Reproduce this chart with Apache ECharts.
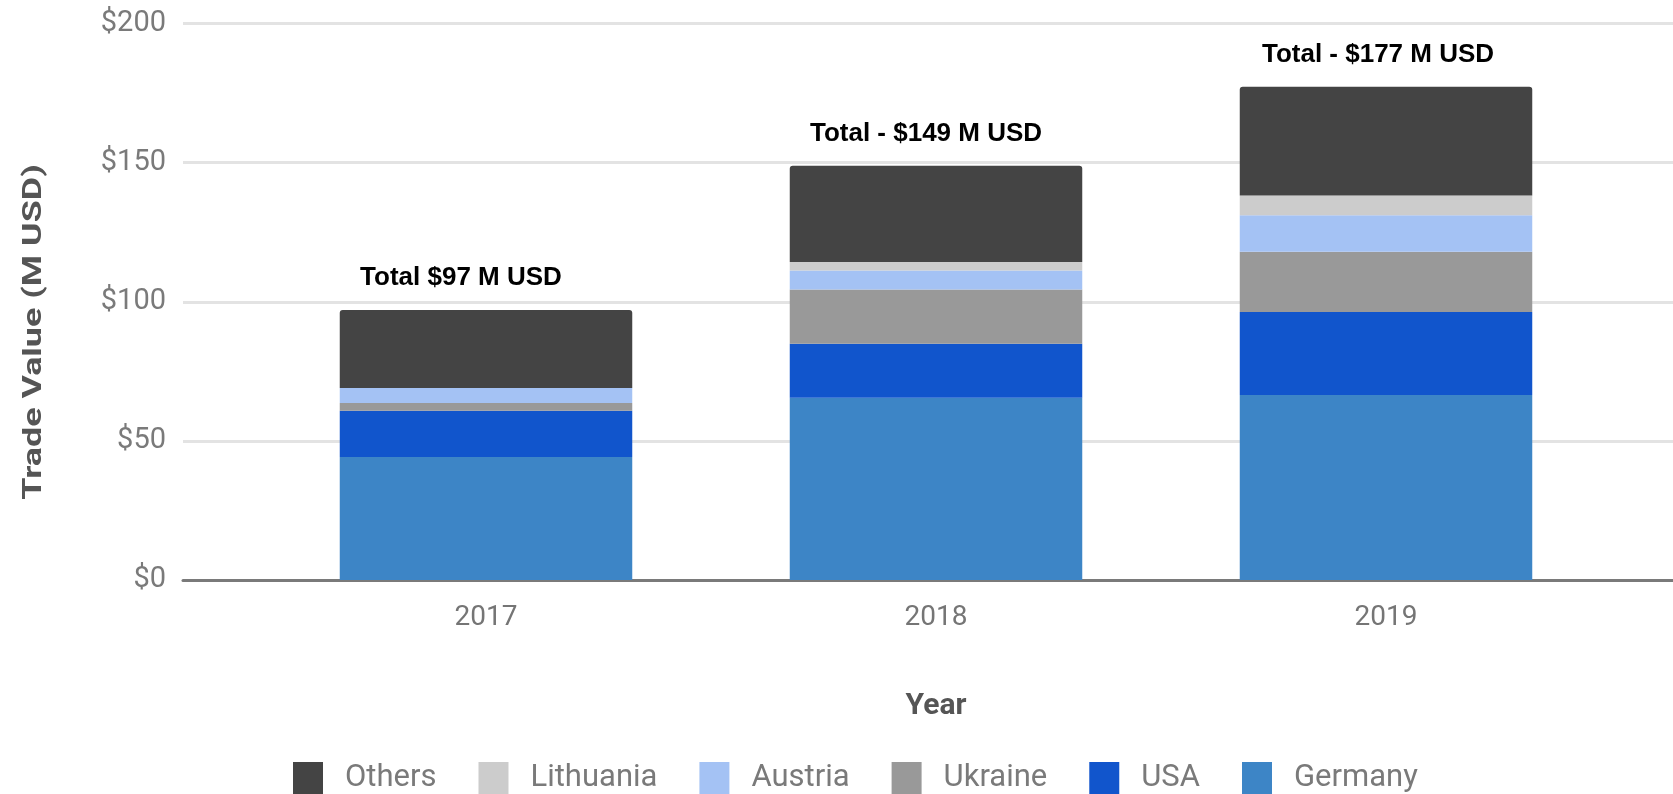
<!DOCTYPE html>
<html>
<head>
<meta charset="utf-8">
<script src="https://cdn.jsdelivr.net/npm/echarts@6/dist/echarts.min.js"></script>
<style>
html,body{margin:0;padding:0;background:#fff;}
#chart{width:1673px;height:794px;}
</style>
</head>
<body>
<div id="chart"></div>
<script>
const years = ['2017', '2018', '2019'];
const germany = [44.2, 65.5, 66.5];
const usa = [16.6, 19.4, 29.8];
const ukraine = [2.8, 19.5, 21.7];
const austria = [5.4, 6.8, 13.1];
const lithuania = [0, 3.1, 7.1];
const others = [28.0, 34.6, 39.1];
const totalLabels = ['Total $97 M USD', 'Total - $149 M USD', 'Total - $177 M USD'];
const yTicks = [0, 50, 100, 150, 200];
const legendOrder = ['Others', 'Lithuania', 'Austria', 'Ukraine', 'USA', 'Germany'];

// label horizontal nudges (style only)
const labelNudge = [-25, -10, -8];

const colors = {
  Germany: '#3d85c6', USA: '#1155cc', Ukraine: '#999999',
  Austria: '#a4c2f4', Lithuania: '#cccccc', Others: '#444444'
};

const chart = echarts.init(document.getElementById('chart'));

function barSeries(name, values, extra) {
  return Object.assign({
    name: name,
    type: 'bar',
    stack: 'total',
    xAxisIndex: 1,
    yAxisIndex: 1,
    barWidth: '65%',
    itemStyle: { color: colors[name] },
    emphasis: { disabled: true },
    data: values
  }, extra || {});
}

const option = {
  animation: false,
  backgroundColor: '#ffffff',
  grid: [
    { left: 183, right: 0, top: 23.5, bottom: 214 },
    { left: 261, right: 62, top: 23.5, bottom: 214 }
  ],
  xAxis: [
    {
      gridIndex: 0, type: 'category', data: [''],
      axisLine: { show: true, lineStyle: { color: '#7a7a7a', width: 3 } },
      axisTick: { show: false }, axisLabel: { show: false }
    },
    {
      gridIndex: 1, type: 'category', data: years,
      axisLine: { show: false }, axisTick: { show: false },
      axisLabel: { fontFamily: 'Roboto', fontSize: 28, color: '#757575', margin: 24 },
      name: 'Year', nameLocation: 'middle', nameGap: 111,
      nameTextStyle: { fontFamily: 'Roboto', fontWeight: 'bold', fontSize: 30, color: '#555555' }
    }
  ],
  yAxis: [
    {
      gridIndex: 0, type: 'value', min: yTicks[0], max: yTicks[yTicks.length - 1], interval: 50,
      axisLine: { show: false }, axisTick: { show: false },
      axisLabel: { formatter: v => '$' + v, fontFamily: 'Roboto', fontSize: 29, color: '#7a7a7a', margin: 17 },
      splitLine: { lineStyle: { color: '#e3e3e3', width: 3 } }
    },
    {
      gridIndex: 1, type: 'value', min: yTicks[0], max: yTicks[yTicks.length - 1], interval: 50,
      show: false, splitLine: { show: false }
    }
  ],
  legend: {
    data: legendOrder,
    left: 288, top: 757,
    icon: 'rect', itemWidth: 30, itemHeight: 32, itemGap: 42,
    textStyle: { fontFamily: 'Roboto', fontSize: 31, color: '#7a7a7a', padding: [0, 0, 0, 17] }
  },
  graphic: [{
    type: 'text', x: 34, y: 332, rotation: Math.PI / 2, scaleX: 1.38, scaleY: 1,
    style: {
      text: 'Trade Value (M USD)', textAlign: 'center', textVerticalAlign: 'middle',
      font: 'bold 26px Roboto', fill: '#555555'
    }
  }],
  series: [
    barSeries('Germany', germany),
    barSeries('USA', usa),
    barSeries('Ukraine', ukraine),
    barSeries('Austria', austria),
    barSeries('Lithuania', lithuania),
    barSeries('Others', others.map((v, i) => ({ value: v, label: { offset: [labelNudge[i], 0] } })), {
      itemStyle: { color: colors.Others, borderRadius: [3, 3, 0, 0] },
      label: {
        show: true, position: 'top', distance: 19,
        formatter: p => totalLabels[p.dataIndex],
        fontFamily: 'Liberation Sans, Arial', fontWeight: 'bold', fontSize: 26, color: '#000000'
      }
    })
  ]
};
chart.setOption(option);
</script>
</body>
</html>
